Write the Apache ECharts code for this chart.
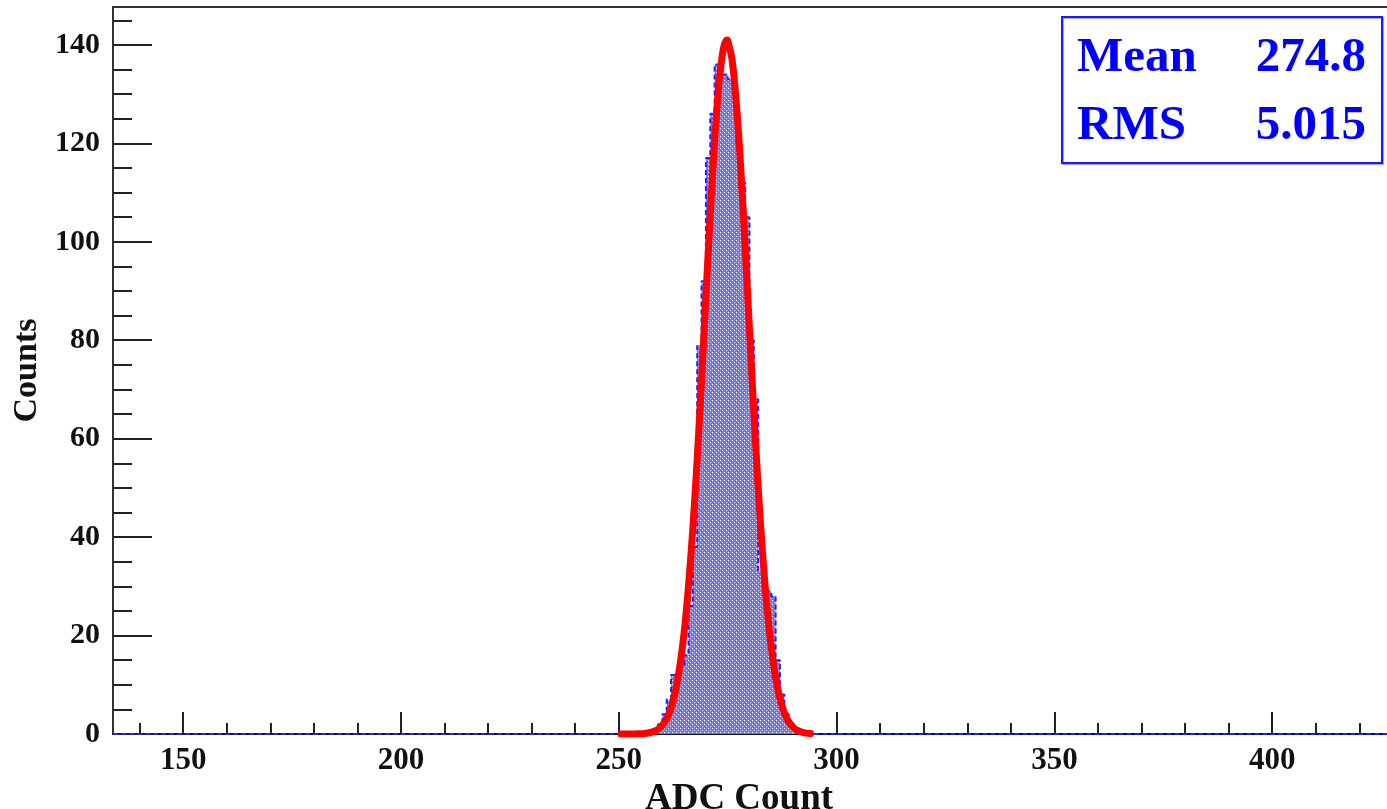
<!DOCTYPE html>
<html>
<head>
<meta charset="utf-8">
<script src="https://cdn.jsdelivr.net/npm/echarts@6/dist/echarts.min.js"></script>
<style>
  html, body { margin: 0; padding: 0; background: #ffffff; }
  #chart { width: 1387px; height: 809px; }
</style>
</head>
<body>
<div id="chart"></div>
<script>
// ADC count histogram (1-count bins) with its Gaussian fit
const X_MIN = 133.9;
const X_MAX = 426.8;
const Y_MIN = 0;
const Y_MAX = 147.7;

const xMajorTicks = [150, 200, 250, 300, 350, 400];
const xMinorTicks = [140, 160, 170, 180, 190, 210, 220, 230, 240, 260, 270, 280, 290,
                     310, 320, 330, 340, 360, 370, 380, 390, 410, 420];
const yMajorTicks = [0, 20, 40, 60, 80, 100, 120, 140];
const yMinorTicks = [5, 10, 15, 25, 30, 35, 45, 50, 55, 65, 70, 75, 85, 90, 95,
                     105, 110, 115, 125, 130, 135, 145];

// lower edge of each non-empty bin and its count
const histBins = [257, 258, 259, 260, 261, 262, 263, 264, 265, 266, 267, 268, 269, 270,
                  271, 272, 273, 274, 275, 276, 277, 278, 279, 280, 281, 282, 283, 284,
                  285, 286, 287, 288, 289, 290];
const histCounts = [1, 1, 2, 4, 7, 12, 12, 14, 16, 26, 38, 79, 92, 117,
                    126, 136, 134, 134, 133, 131, 120, 112, 105, 80, 68, 33, 31, 29,
                    28, 15, 8, 4, 2, 1];

// fitted curve, sampled along x
const fitX = [250.5, 252, 254, 256, 258, 259, 260, 261, 262, 263, 264, 265, 266, 267, 268,
              269, 270, 271, 272, 273, 274, 274.8, 275, 276, 277, 278, 279, 280, 281, 282,
              283, 284, 285, 286, 287, 288, 289, 290, 291, 292, 293, 294];
const fitY = [0, 0, 0.02, 0.12, 0.5, 0.96, 1.8, 3.1, 5.3, 8.7, 13.7, 20.6, 30, 41.8, 55.9,
              71.9, 88.9, 105.6, 120.5, 132.1, 139.2, 141, 140.9, 137, 128, 114.9, 99.1, 82.1, 65.4, 50,
              36.8, 25.9, 17.6, 11.5, 7.2, 4.3, 2.5, 1.4, 0.74, 0.38, 0.18, 0.08];

const statLabels = ['Mean', 'RMS'];
const statValues = ['274.8', '5.015'];

const xTitle = 'ADC Count';
const yTitle = 'Counts';

// step outline points: each bin starts at its lower edge
const histPoints = [[X_MIN, 0]];
histBins.forEach((lo, i) => histPoints.push([lo, histCounts[i]]));
histPoints.push([histBins[histBins.length - 1] + 1, 0]);
histPoints.push([X_MAX, 0]);

const fitPoints = fitX.map((x, i) => [x, fitY[i]]);

// dotted fill pattern
function makePattern() {
  const c = document.createElement('canvas');
  c.width = 4; c.height = 4;
  const g = c.getContext('2d');
  g.fillStyle = '#7a7aff';
  g.fillRect(0, 0, 4, 4);
  g.fillStyle = '#ffffff';
  g.fillRect(0, 0, 1, 1);
  g.fillStyle = '#d4d4ff';
  g.fillRect(2, 2, 1, 1);
  g.fillStyle = '#5a5aff';
  g.fillRect(1, 3, 1, 1);
  g.fillRect(3, 1, 1, 1);
  return c;
}

const FONT = '"Liberation Serif", "Times New Roman", serif';
const tickColor = '#222222';

const chart = echarts.init(document.getElementById('chart'), null, { renderer: 'canvas' });

const gridLeft = 113, gridTop = 7, gridRight = -2, gridBottom = 75;

chart.setOption({
  animation: false,
  backgroundColor: '#ffffff',
  grid: {
    left: gridLeft, top: gridTop, right: gridRight, bottom: gridBottom,
    containLabel: false, outerBoundsMode: 'none',
    show: true, borderColor: '#333333', borderWidth: 2, backgroundColor: 'transparent'
  },
  xAxis: [
    {
      type: 'value', min: X_MIN, max: X_MAX, position: 'bottom',
      axisLine: { show: true, lineStyle: { color: '#111111', width: 2 } },
      axisTick: { show: true, inside: true, length: 22, customValues: xMajorTicks,
                  lineStyle: { color: tickColor, width: 2 } },
      axisLabel: { show: true, customValues: xMajorTicks, margin: 11,
                   fontFamily: FONT, fontWeight: 'bold', fontSize: 31, color: '#111111' },
      splitLine: { show: false },
      name: xTitle, nameLocation: 'middle', nameGap: 30,
      nameTextStyle: { fontFamily: FONT, fontWeight: 'bold', fontSize: 37, color: '#111111',
                       padding: [0, 24, 0, 0] }
    },
    {
      type: 'value', min: X_MIN, max: X_MAX, position: 'bottom',
      axisLine: { show: false },
      axisTick: { show: true, inside: true, length: 11, customValues: xMinorTicks,
                  lineStyle: { color: tickColor, width: 2 } },
      axisLabel: { show: false },
      splitLine: { show: false }
    }
  ],
  yAxis: [
    {
      type: 'value', min: Y_MIN, max: Y_MAX, position: 'left',
      axisLine: { show: true, lineStyle: { color: '#333333', width: 2 } },
      axisTick: { show: true, inside: true, length: 39, customValues: yMajorTicks,
                  lineStyle: { color: tickColor, width: 2 } },
      axisLabel: { show: true, customValues: yMajorTicks, margin: 13,
                   fontFamily: FONT, fontWeight: 'bold', fontSize: 30, color: '#111111' },
      splitLine: { show: false },
      name: yTitle, nameLocation: 'middle', nameGap: 68,
      nameTextStyle: { fontFamily: FONT, fontWeight: 'bold', fontSize: 34, color: '#111111' }
    },
    {
      type: 'value', min: Y_MIN, max: Y_MAX, position: 'left',
      axisLine: { show: false },
      axisTick: { show: true, inside: true, length: 19, customValues: yMinorTicks,
                  lineStyle: { color: tickColor, width: 2 } },
      axisLabel: { show: false },
      splitLine: { show: false }
    }
  ],
  series: [
    {
      name: 'histogram',
      type: 'line',
      xAxisIndex: 0, yAxisIndex: 0,
      data: histPoints,
      step: 'end',
      symbol: 'none',
      lineStyle: { color: '#2020ff', width: 2, type: [5, 3] },
      areaStyle: { color: { image: makePattern(), repeat: 'repeat' }, opacity: 1, origin: 'start' },
      z: 3
    },
    {
      name: 'fit',
      type: 'line',
      xAxisIndex: 0, yAxisIndex: 0,
      data: fitPoints,
      smooth: 0.3,
      symbol: 'none',
      lineStyle: { color: '#ff0000', width: 7, cap: 'round', join: 'round' },
      z: 4
    }
  ],
  graphic: [
    {
      type: 'rect', z: 10,
      shape: { x: 1062, y: 17, width: 320, height: 146 },
      style: { fill: '#ffffff', stroke: '#1a1aff', lineWidth: 2,
               shadowColor: 'rgba(0,0,60,0.35)', shadowOffsetX: 1, shadowOffsetY: 1, shadowBlur: 1 }
    },
    {
      type: 'text', z: 11, x: 1077, y: 83,
      style: { text: statLabels[0], fill: '#0000ff', font: 'bold 49px ' + FONT,
               textAlign: 'left', textVerticalAlign: 'bottom', verticalAlign: 'bottom' }
    },
    {
      type: 'text', z: 11, x: 1366, y: 83,
      style: { text: statValues[0], fill: '#0000ff', font: 'bold 49px ' + FONT,
               textAlign: 'right', align: 'right', textVerticalAlign: 'bottom', verticalAlign: 'bottom' }
    },
    {
      type: 'text', z: 11, x: 1077, y: 151,
      style: { text: statLabels[1], fill: '#0000ff', font: 'bold 49px ' + FONT,
               textAlign: 'left', textVerticalAlign: 'bottom', verticalAlign: 'bottom' }
    },
    {
      type: 'text', z: 11, x: 1366, y: 151,
      style: { text: statValues[1], fill: '#0000ff', font: 'bold 49px ' + FONT,
               textAlign: 'right', align: 'right', textVerticalAlign: 'bottom', verticalAlign: 'bottom' }
    }
  ]
});
</script>
</body>
</html>
